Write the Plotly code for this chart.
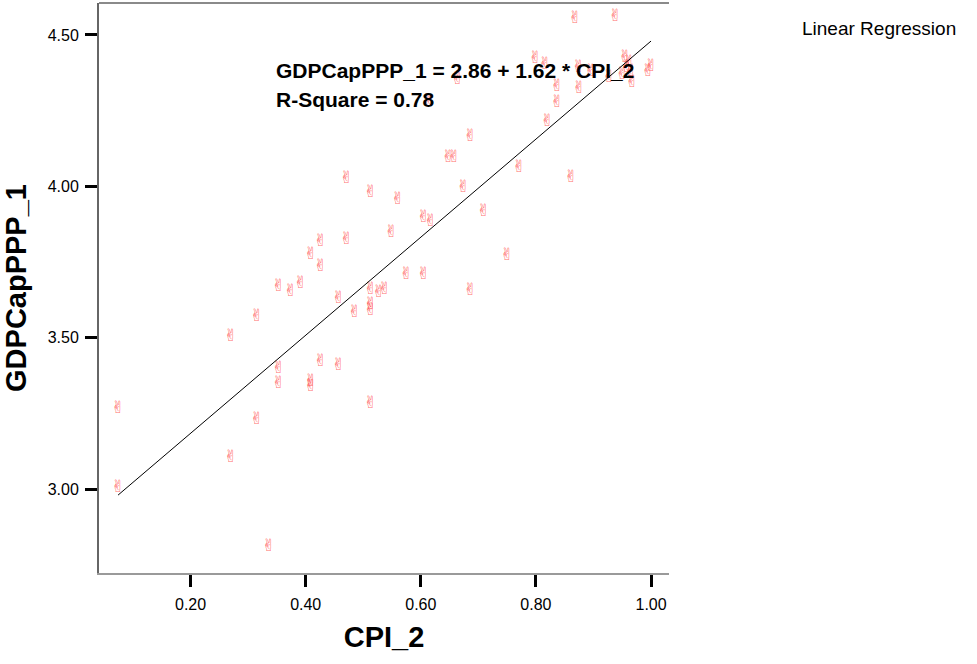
import plotly.graph_objects as go

# Data
cpi_2 = [0.074, 0.074, 0.270, 0.270, 0.315, 0.315, 0.336, 0.353, 0.353, 0.353,
         0.374, 0.391, 0.409, 0.409, 0.409, 0.426, 0.426, 0.426, 0.457, 0.457,
         0.471, 0.471, 0.485, 0.513, 0.513, 0.527, 0.537, 0.513, 0.513, 0.513,
         0.549, 0.560, 0.575, 0.605, 0.605, 0.617, 0.615, 0.648, 0.658, 0.664,
         0.674, 0.686, 0.686, 0.709, 0.750, 0.771, 0.799, 0.816, 0.820, 0.837,
         0.837, 0.861, 0.868, 0.874, 0.875, 0.896, 0.927, 0.938, 0.955, 0.962,
         0.958, 0.965, 0.967, 1.000, 0.995, 0.950]
gdpcap_ppp_1 = [3.264, 3.003, 3.502, 3.103, 3.568, 3.228, 2.809, 3.667, 3.397, 3.347,
                3.651, 3.677, 3.773, 3.354, 3.337, 3.816, 3.734, 3.420, 3.628, 3.407,
                4.024, 3.823, 3.582, 3.978, 3.658, 3.648, 3.658, 3.608, 3.588, 3.281,
                3.846, 3.955, 3.707, 3.707, 3.895, 3.882, 4.279, 4.094, 4.094, 4.351,
                3.995, 4.163, 3.654, 3.915, 3.770, 4.061, 4.421, 4.401, 4.213, 4.328,
                4.275, 4.028, 4.553, 4.391, 4.322, 4.378, 4.358, 4.559, 4.424, 4.408,
                4.391, 4.378, 4.341, 4.394, 4.378, 4.368]

intercept = 2.86
slope = 1.62
r_square = 0.78

x_ticks = [0.20, 0.40, 0.60, 0.80, 1.00]
x_tick_labels = ["0.20", "0.40", "0.60", "0.80", "1.00"]
y_ticks = [3.00, 3.50, 4.00, 4.50]
y_tick_labels = ["3.00", "3.50", "4.00", "4.50"]

font_family = "Liberation Sans, Arial, sans-serif"

fig = go.Figure()

fig.add_trace(go.Scatter(
    x=cpi_2, y=gdpcap_ppp_1, mode="text", text=["\u270c\ufe0e"] * len(cpi_2),
    textposition="middle center",
    textfont=dict(family="DejaVu Sans", size=17, color="rgba(255,70,70,0.8)"),
    showlegend=False, hoverinfo="x+y",
))

line_x = [min(cpi_2), max(cpi_2)]
line_y = [intercept + slope * v for v in line_x]
fig.add_trace(go.Scatter(
    x=line_x, y=line_y, mode="lines",
    line=dict(color="black", width=1), showlegend=False,
))

fig.update_layout(
    width=977, height=664,
    margin=dict(l=99, r=308, t=3, b=91),
    paper_bgcolor="white", plot_bgcolor="white",
    font=dict(family=font_family, color="black"),
    xaxis=dict(
        range=[0.0409, 1.0312], tickvals=x_ticks, ticktext=x_tick_labels,
        showgrid=False, zeroline=False,
        showline=True, linecolor="#9a9a9a", linewidth=2,
        ticks="outside", ticklen=12, tickwidth=3, tickcolor="black",
        tickfont=dict(size=16, family=font_family), ticklabelstandoff=4,
        title=dict(text="<b>CPI_2</b>", font=dict(size=29, family=font_family), standoff=14),
    ),
    yaxis=dict(
        range=[2.7225, 4.6057], tickvals=y_ticks, ticktext=y_tick_labels,
        showgrid=False, zeroline=False,
        showline=True, linecolor="#666666", linewidth=2,
        ticks="outside", ticklen=12, tickwidth=3, tickcolor="black",
        tickfont=dict(size=16, family=font_family), ticklabelstandoff=3,
        title=dict(text="<b>GDPCapPPP_1</b>", font=dict(size=29, family=font_family), standoff=16),
    ),
    shapes=[dict(type="line", xref="paper", yref="paper", x0=0, x1=1, y0=1, y1=1,
                 line=dict(color="#8a8a8a", width=2))],
    annotations=[
        dict(xref="paper", yref="paper", x=(274 - 99) / 570, y=1 - (70 - 3) / 570,
             xanchor="left", yanchor="middle", showarrow=False,
             text="<b>GDPCapPPP_1 = %.2f + %.2f * CPI_2</b>" % (intercept, slope),
             font=dict(size=21, family=font_family)),
        dict(xref="paper", yref="paper", x=(274 - 99) / 570, y=1 - (100 - 3) / 570,
             xanchor="left", yanchor="middle", showarrow=False,
             text="<b>R-Square = %.2f</b>" % r_square,
             font=dict(size=21, family=font_family)),
        dict(xref="paper", yref="paper", x=(800 - 99) / 570, y=1 - (28 - 3) / 570,
             xanchor="left", yanchor="middle", showarrow=False,
             text="Linear Regression", font=dict(size=19, family=font_family)),
    ],
)

fig.write_html("out.html", post_script="document.body.style.margin='0';",
               config={"displayModeBar": False})
